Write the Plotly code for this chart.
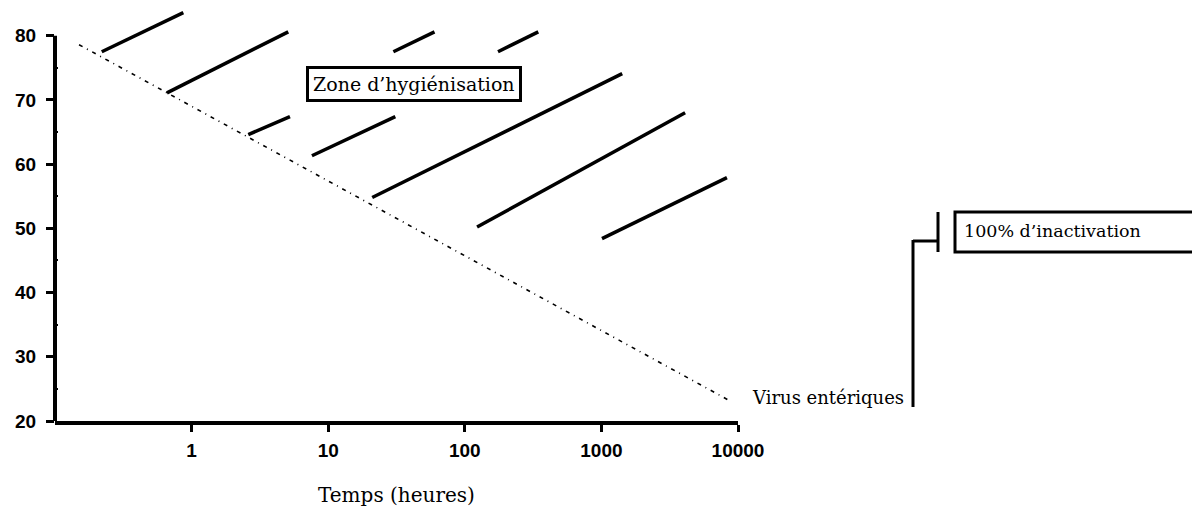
import math
import plotly.graph_objects as go

# ---- data ----
diag_x = [0.15, 8450]
diag_y = [78.6, 23.3]

hatch_x0 = [0.22, 0.66, 2.6, 30, 175, 7.6, 21, 123, 1010]
hatch_y0 = [77.5, 71.1, 64.6, 77.5, 77.5, 61.3, 54.8, 50.2, 48.4]
hatch_x1 = [0.87, 5.1, 5.25, 60, 345, 31, 1420, 4100, 8300]
hatch_y1 = [83.6, 80.6, 67.4, 80.6, 80.6, 67.4, 74.1, 68.0, 57.9]

x_tickvals = [1, 10, 100, 1000, 10000]
x_ticktext = ["1", "10", "100", "1000", "10000"]
y_tickvals = [20, 30, 40, 50, 60, 70, 80]
y_minor = [25, 35, 45, 55, 65, 75]

zone_label = "Zone d\u2019hygiénisation"
zone_x, zone_y = 42.5, 72.4
virus_label = "Virus entériques"
virus_y = 23.7
inact_label = "100% d\u2019inactivation"
x_title = "Temps (heures)"

# ---- figure (page has an 8px body margin; compensate) ----
OFF = 8
W, H = 1200 - OFF, 508 - OFF
ml, mt = 55 - OFF, 10 - OFF
mr = W - (738 - OFF)
mb = H - (421 - OFF)
pw = W - ml - mr
ph = H - mt - mb


def px2paper_x(px):
    # px: page pixel
    return (px - OFF - ml) / pw


def py2paper_y(py):
    return (H - mb - (py - OFF)) / ph


fig = go.Figure()

fig.add_trace(go.Scatter(
    x=diag_x, y=diag_y, mode="lines",
    line=dict(color="black", width=1.6, dash="4px,5px,1px,5px"),
    showlegend=False, hoverinfo="skip"))

hx, hy = [], []
for a, b, c, d in zip(hatch_x0, hatch_y0, hatch_x1, hatch_y1):
    hx += [a, c, None]
    hy += [b, d, None]
fig.add_trace(go.Scatter(
    x=hx, y=hy, mode="lines",
    line=dict(color="black", width=3.5),
    showlegend=False, hoverinfo="skip"))

tick_font = dict(family="Liberation Sans, Arial, sans-serif", size=19,
                 color="black", weight="bold")
serif = "DejaVu Serif, Liberation Serif, serif"

fig.update_xaxes(
    type="log", range=[-1, 4],
    showline=True, linecolor="black", linewidth=4,
    showgrid=False, zeroline=False,
    tickvals=x_tickvals, ticktext=x_ticktext,
    ticks="outside", ticklen=7, tickwidth=3, tickcolor="black",
    tickfont=tick_font, ticklabelstandoff=2)

fig.update_yaxes(
    range=[20, 84],
    showline=False, showgrid=False, zeroline=False,
    tickvals=y_tickvals,
    ticks="outside", ticklen=8, tickwidth=3, tickcolor="black",
    tickfont=tick_font, ticklabelstandoff=6,
    minor=dict(tickvals=y_minor, ticks="inside", ticklen=3,
               tickwidth=2, tickcolor="black"))

shapes = []
# y axis line from 20 to 80
shapes.append(dict(type="line", xref="paper", yref="y", x0=0, x1=0,
                   y0=20, y1=80, line=dict(color="black", width=4)))
# bracket
bx1 = px2paper_x(913)
bx2 = px2paper_x(938)
shapes.append(dict(type="line", xref="paper", yref="paper", x0=bx1, x1=bx1,
                   y0=py2paper_y(240), y1=py2paper_y(407),
                   line=dict(color="black", width=3)))
shapes.append(dict(type="line", xref="paper", yref="paper", x0=bx1, x1=bx2,
                   y0=py2paper_y(241), y1=py2paper_y(241),
                   line=dict(color="black", width=3)))
shapes.append(dict(type="line", xref="paper", yref="paper", x0=bx2, x1=bx2,
                   y0=py2paper_y(212), y1=py2paper_y(252),
                   line=dict(color="black", width=3)))
# open box for 100% d'inactivation (continues past right edge)
bl = px2paper_x(955)
br = px2paper_x(1230)
bt = py2paper_y(212)
bb = py2paper_y(252)
shapes.append(dict(type="path", xref="paper", yref="paper",
                   path=f"M {br},{bt} L {bl},{bt} L {bl},{bb} L {br},{bb}",
                   line=dict(color="black", width=3)))
fig.update_layout(shapes=shapes)

annotations = [
    dict(x=math.log10(zone_x), y=zone_y, xref="x", yref="y", text=zone_label,
         showarrow=False, font=dict(family=serif, size=19, color="black"),
         bordercolor="black", borderwidth=3, borderpad=4, bgcolor="white"),
    dict(x=px2paper_x(750), y=virus_y, xref="paper", yref="y",
         text=virus_label, showarrow=False, xanchor="left", yanchor="middle",
         font=dict(family=serif, size=18, color="black")),
    dict(x=px2paper_x(962), y=py2paper_y(231.5), xref="paper", yref="paper",
         text=inact_label, showarrow=False, xanchor="left", yanchor="middle",
         font=dict(family=serif, size=17.5, color="black")),
    dict(x=0.5, y=py2paper_y(495), xref="paper", yref="paper",
         text=x_title, showarrow=False, xanchor="center", yanchor="middle",
         font=dict(family=serif, size=20, color="black")),
]
fig.update_layout(annotations=annotations)

fig.update_layout(
    width=W, height=H,
    margin=dict(l=ml, r=mr, t=mt, b=mb, autoexpand=False),
    paper_bgcolor="white", plot_bgcolor="white",
    showlegend=False)

fig.write_html("out.html")
